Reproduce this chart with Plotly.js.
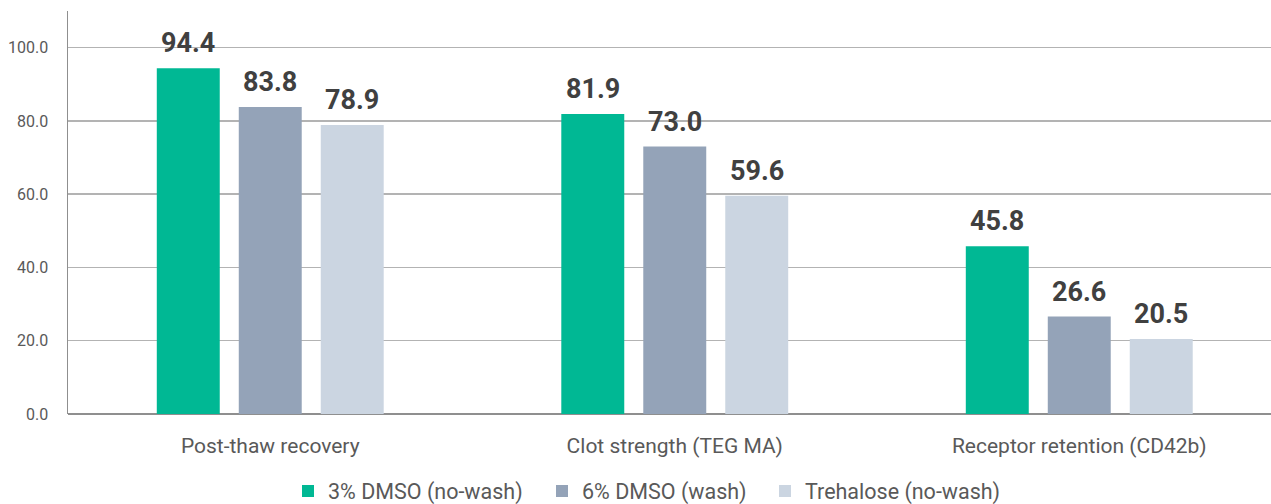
<!DOCTYPE html>
<html><head><meta charset="utf-8">
<script src="https://cdn.plot.ly/plotly-3.0.1.min.js"></script>
<style>body{margin:0;background:#fff}#c{width:1271px;height:504px}</style>
</head><body><div id="c"></div>
<script>
const categories = ["Post-thaw recovery", "Clot strength (TEG MA)", "Receptor retention (CD42b)"];
const seriesNames = ["3% DMSO (no-wash)", "6% DMSO (wash)", "Trehalose (no-wash)"];
const dmso3 = [94.4, 81.9, 45.8];
const dmso6 = [83.8, 73.0, 26.6];
const trehalose = [78.9, 59.6, 20.5];
const colors = ["#00B894", "#94A3B8", "#CBD5E1"];
const yTicks = [0, 20, 40, 60, 80, 100];
const yTickLabels = ["0.0", "20.0", "40.0", "60.0", "80.0", "100.0"];

const seriesVals = [dmso3, dmso6, trehalose];
const legendIds = ["legend", "legend2", "legend3"];
const traces = seriesVals.map((v, i) => ({
  type: "bar", name: seriesNames[i], x: categories, y: v, legend: legendIds[i],
  marker: {color: colors[i]}, hoverinfo: "skip"
}));
const shifts = [-82, 0, 82];
const annotations = [];
seriesVals.forEach((v, i) => v.forEach((val, j) => annotations.push({
  x: categories[j], y: val, xref: "x", yref: "y", text: val.toFixed(1),
  showarrow: false, yanchor: "bottom", xshift: shifts[i], yshift: 7,
  font: {family: "Roboto, Arial, sans-serif", size: 27, color: "#404040", weight: "bold"}
})));

const legFont = {family: "Roboto, Arial, sans-serif", size: 21.5, color: "#595959"};
const legX = [288, 542, 765];
const mkLeg = x => ({orientation: "h", xref: "container", yref: "container",
  x: x / 1271, xanchor: "left", y: 1 - 491 / 504, yanchor: "middle",
  font: legFont, bgcolor: "rgba(0,0,0,0)"});

const layout = {
  width: 1271, height: 504,
  margin: {l: 68, r: 0, t: 11, b: 90, autoexpand: false},
  paper_bgcolor: "#fff", plot_bgcolor: "#fff",
  barmode: "group", bargap: 0.392, bargroupgap: 0.232,
  showlegend: true,
  legend: mkLeg(legX[0]), legend2: mkLeg(legX[1]), legend3: mkLeg(legX[2]),
  xaxis: {type: "category", range: [-0.5, 2.474], showgrid: false, zeroline: false,
    showline: false, ticks: "", ticklabelstandoff: 17, automargin: false,
    tickfont: {family: "Roboto, Arial, sans-serif", size: 21, color: "#595959"}},
  yaxis: {range: [0, 110], tickvals: yTicks, ticktext: yTickLabels, automargin: false,
    showgrid: true, gridcolor: "#b3b3b3", gridwidth: 1.4,
    zeroline: true, zerolinecolor: "#8f8f8f", zerolinewidth: 1.5,
    showline: true, linecolor: "#8f8f8f", linewidth: 1.5,
    ticks: "", ticklabelstandoff: 15,
    tickfont: {family: "Roboto, Arial, sans-serif", size: 16, color: "#595959"}},
  annotations: annotations
};
Plotly.newPlot("c", traces, layout, {displayModeBar: false, staticPlot: true});
</script></body></html>
